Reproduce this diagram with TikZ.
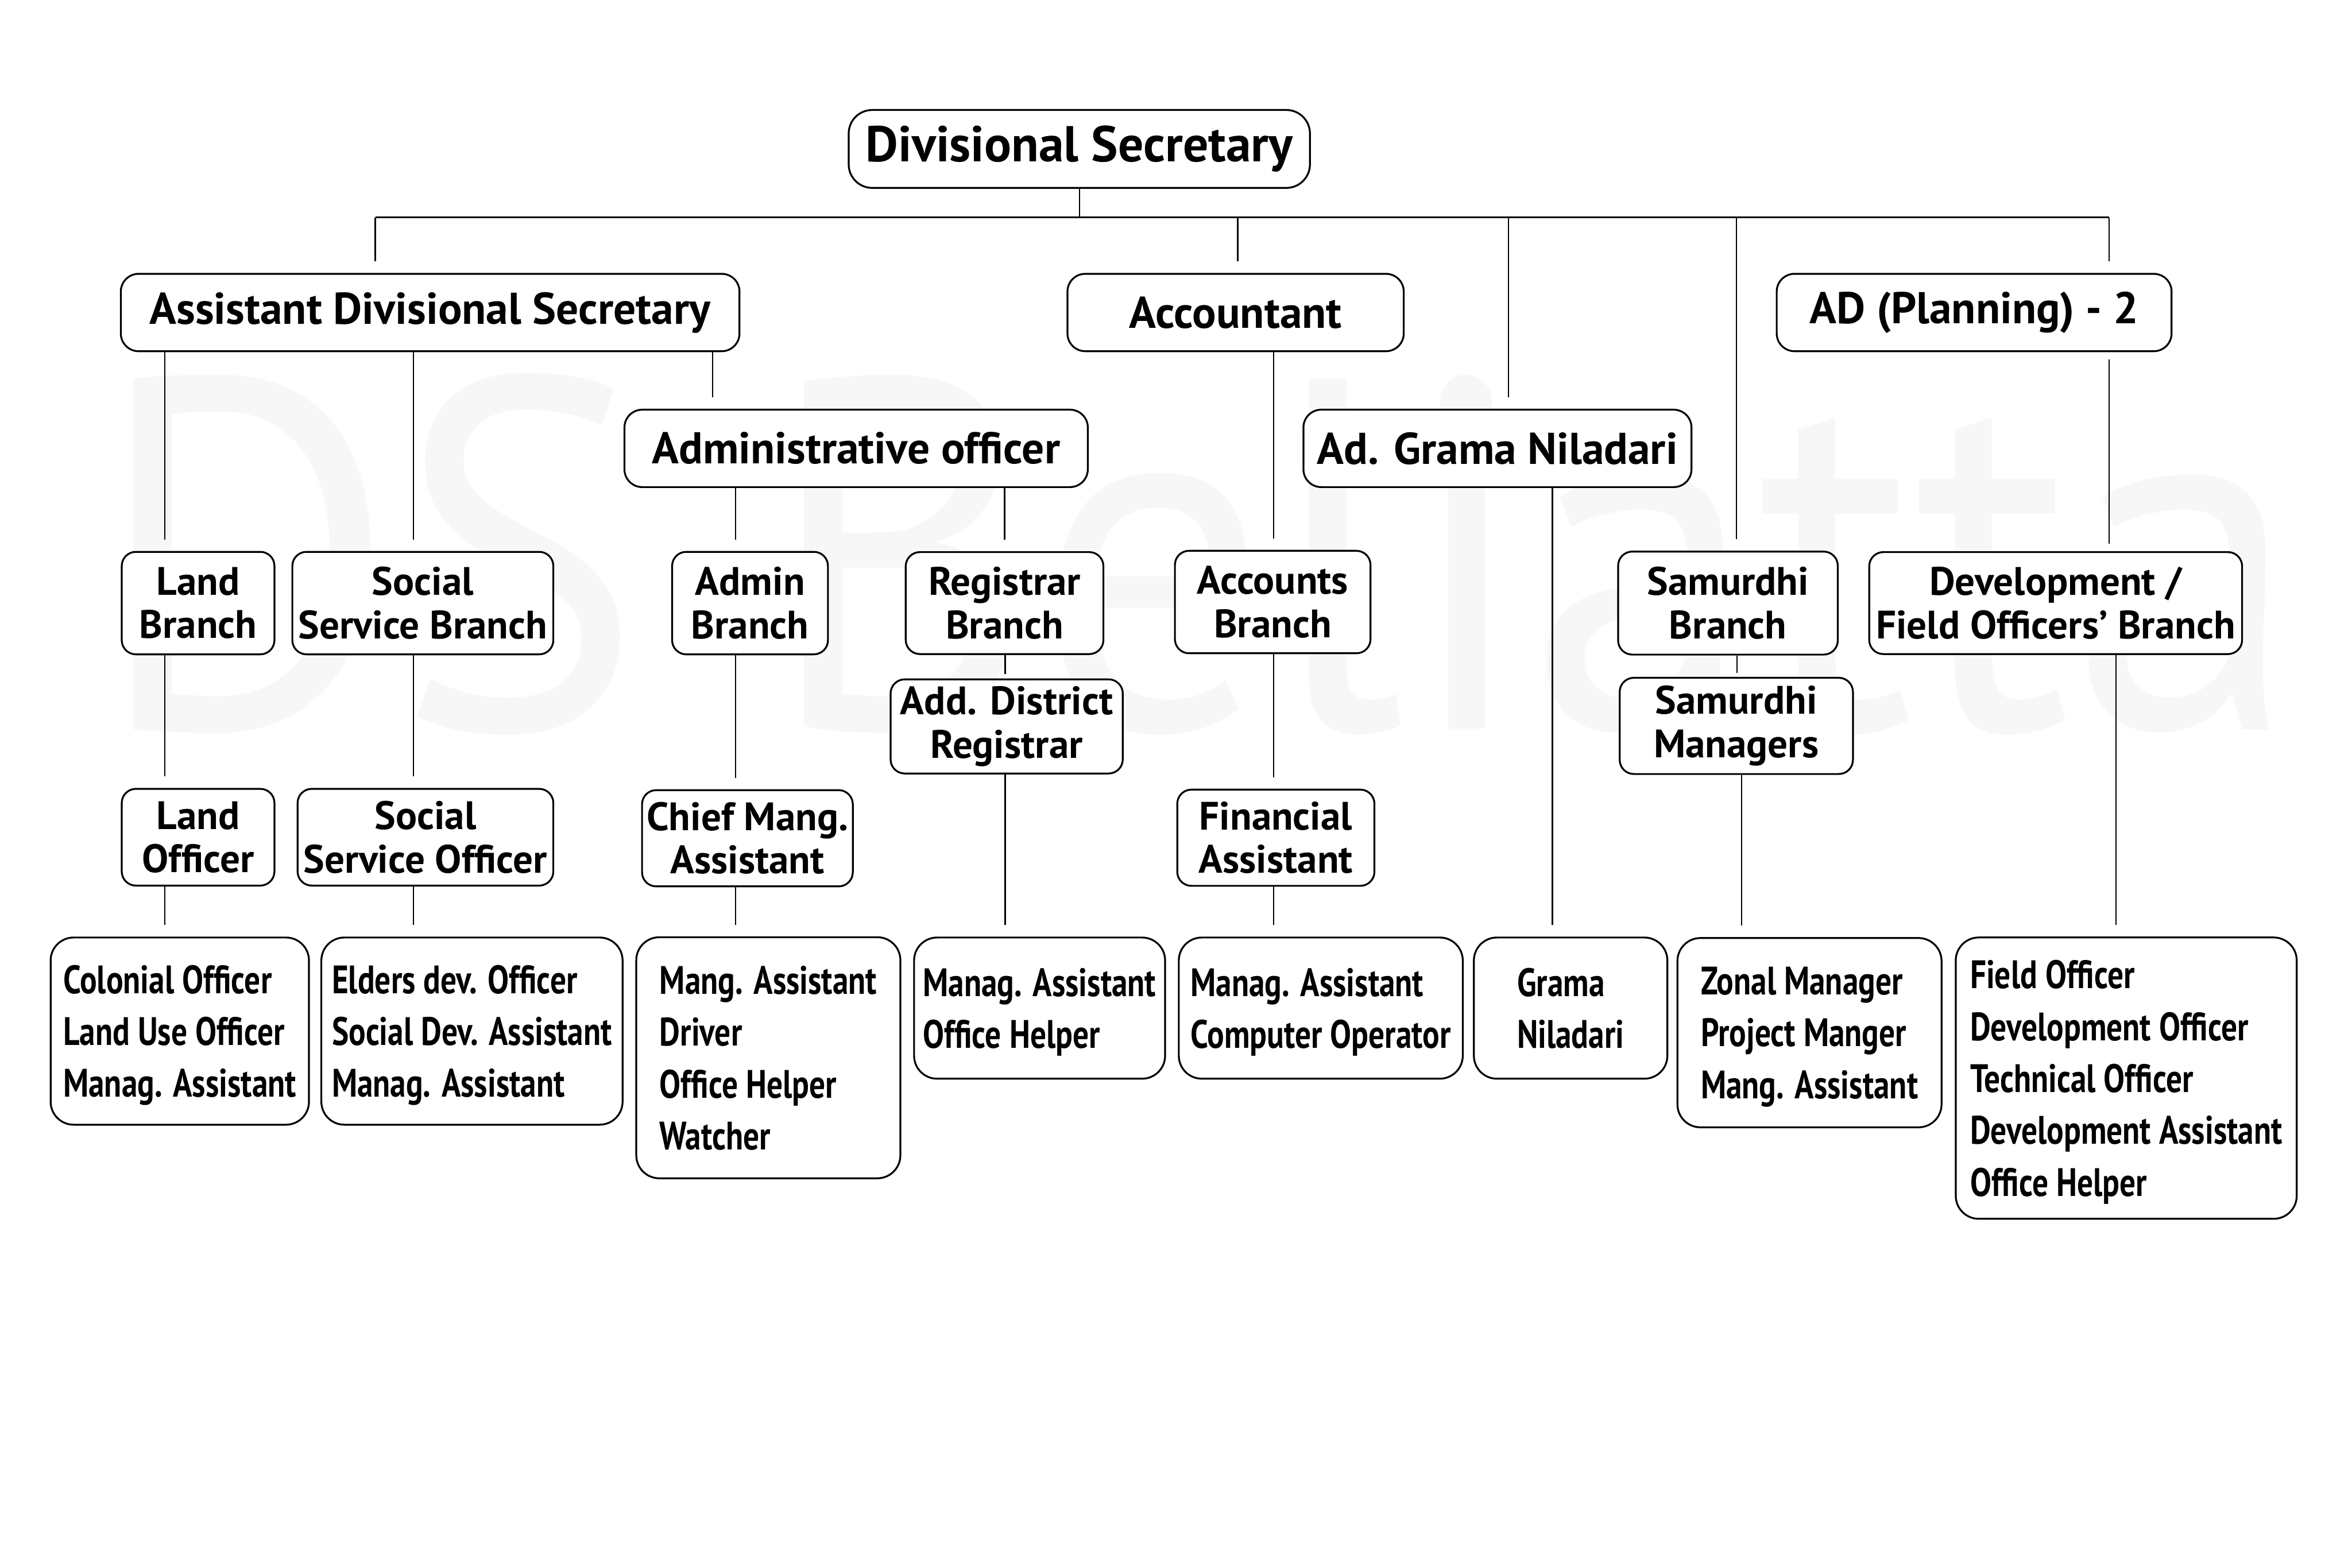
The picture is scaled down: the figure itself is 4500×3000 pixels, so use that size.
\documentclass[tikz,border=0pt]{standalone}
\usepackage{fontspec}
\setmainfont{PT Sans}
\newfontfamily\listfont[FakeStretch=0.8]{PT Sans}
\newsavebox\wmbox

\begin{document}
\sbox\wmbox{\color{black!3}\fontsize{272}{280}\selectfont DS Beliatta}%
\begin{tikzpicture}[x=0.01cm,y=-0.01cm,
  box/.style={draw,fill=white,line width=1pt,inner sep=0pt,align=center},
  top/.style={box,rounded corners=4.5mm,font=\bfseries\fontsize{27.4}{30}\selectfont},
  head/.style={box,rounded corners=3.4mm,minimum height=1.48cm,font=\bfseries\fontsize{24.2}{27}\selectfont},
  branch/.style={box,rounded corners=2.7mm,font=\bfseries\fontsize{21.6}{23.6}\selectfont},
  staff/.style={box,rounded corners=4.4mm,align=left,text depth=0pt,font=\listfont\bfseries\fontsize{21.6}{28.2}\selectfont},
  link/.style={line width=0.7pt,shorten >=2.2mm}]
  \useasboundingbox (0,0) rectangle (4500,3000);
  % ---------------- watermark ----------------
  \pgfmathsetmacro\wmscale{1200/\the\wd\wmbox}
  \node[anchor=base west,inner sep=0pt,text=black!3] (mark) at (180,1395) {\scalebox{\wmscale}[1]{\usebox\wmbox}};
  % ---------------- top levels ----------------
  \node[top,minimum width=8.82cm,minimum height=1.49cm] (ds) at (2065,285) {Divisional Secretary};
  \node[head,minimum width=11.83cm] (ads) at (823,598) {Assistant Divisional Secretary};
  \node[head,minimum width=6.43cm] (acc) at (2364,598) {Accountant};
  \node[head,minimum width=7.55cm] (adp) at (3777,598) {AD (Planning) - 2};
  \node[head,minimum width=8.86cm] (admo) at (1638,858) {Administrative officer};
  \node[head,minimum width=7.42cm] (grama) at (2865,858) {Ad. Grama Niladari};
  % ---------------- branches ----------------
  \node[branch,minimum width=2.92cm,minimum height=1.96cm] (landb) at (379,1154) {Land\\Branch};
  \node[branch,minimum width=4.99cm,minimum height=1.96cm] (socb) at (809,1154) {Social\\Service Branch};
  \node[branch,minimum width=2.98cm,minimum height=1.96cm] (admb) at (1435,1154) {Admin\\Branch};
  \node[branch,minimum width=3.78cm,minimum height=1.95cm] (regb) at (1922,1154) {Registrar\\Branch};
  \node[branch,minimum width=3.74cm,minimum height=1.96cm] (accb) at (2435,1152) {Accounts\\Branch};
  \node[branch,minimum width=4.20cm,minimum height=1.97cm] (samb) at (3306,1154) {Samurdhi\\Branch};
  \node[branch,minimum width=7.13cm,minimum height=1.95cm] (devb) at (3933,1154) {Development /\\Field Officers’ Branch};
  \node[branch,minimum width=4.44cm,minimum height=1.80cm] (adr) at (1926,1390) {Add. District\\Registrar};
  \node[branch,minimum width=4.46cm,minimum height=1.84cm] (samm) at (3322,1389) {Samurdhi\\Managers};
  % ---------------- officers ----------------
  \node[branch,minimum width=2.92cm,minimum height=1.85cm] (lando) at (379,1602) {Land\\Officer};
  \node[branch,minimum width=4.89cm,minimum height=1.85cm] (soco) at (814,1602) {Social\\Service Officer};
  \node[branch,minimum width=4.03cm,minimum height=1.84cm] (chief) at (1430,1604) {Chief Mang.\\Assistant};
  \node[branch,minimum width=3.77cm,minimum height=1.84cm] (fina) at (2441,1603) {Financial\\Assistant};
  % ---------------- staff lists ----------------
  \node[staff,minimum width=4.94cm,minimum height=3.58cm] (lands) at (344,1973) {Colonial Officer\\Land Use Officer\\Manag. Assistant};
  \node[staff,minimum width=5.76cm,minimum height=3.58cm] (socs) at (903,1973) {Elders dev. Officer\\Social Dev. Assistant\\Manag. Assistant};
  \node[staff,minimum width=5.05cm,minimum height=4.61cm] (adms) at (1470,2024) {Mang. Assistant\\Driver\\Office Helper\\Watcher};
  \node[staff,minimum width=4.80cm,minimum height=2.70cm] (regs) at (1989,1929) {Manag. Assistant\\Office Helper};
  \node[staff,minimum width=5.43cm,minimum height=2.70cm] (accs) at (2527,1929) {Manag. Assistant\\Computer Operator};
  \node[staff,minimum width=3.70cm,minimum height=2.70cm] (gramas) at (3005,1929) {Grama\\Niladari};
  \node[staff,minimum width=5.05cm,minimum height=3.62cm] (sams) at (3462,1976) {Zonal Manager\\Project Manger\\Mang. Assistant};
  \node[staff,minimum width=6.52cm,minimum height=5.38cm] (devs) at (4068,2063) {Field Officer\\Development Officer\\Technical Officer\\Development Assistant\\Office Helper};
  % ---------------- connectors ----------------
  \coordinate (bar) at (718,416);
  \coordinate (barend) at (4035,416);
  \draw[line width=1pt] (bar) -- (barend);
  \draw[line width=0.7pt] (ds.south) -- (ds.south |- bar);
  \foreach \b/\px in {ads/718, acc/2368, grama/2886, samb/3322, adp/4035}
    \draw[link] (bar -| \px,0) -- (\b.north -| \px,0);
  \foreach \a/\b/\px in {ads/landb/315, ads/socb/791, ads/admo/1363, admo/admb/1407, admo/regb/1922,
      acc/accb/2437, landb/lando/315, socb/soco/791, admb/chief/1407, accb/fina/2437,
      lando/lands/315, soco/socs/791, chief/adms/1407, adr/regs/1923,
      fina/accs/2437, grama/gramas/2970, samm/sams/3332, devb/devs/4048}
    \draw[link] (\a.south -| \px,0) -- (\b.north -| \px,0);
  \draw[link,shorten <=1.4mm,shorten >=1.4mm] (adp.south -| 4035,0) -- (devb.north -| 4035,0);
  \draw[link,shorten >=0.8mm] (regb.south -| 1923,0) -- (adr.north -| 1923,0);
  \draw[link,shorten >=0.8mm] (samb.south -| 3323,0) -- (samm.north -| 3323,0);
\end{tikzpicture}
\end{document}
